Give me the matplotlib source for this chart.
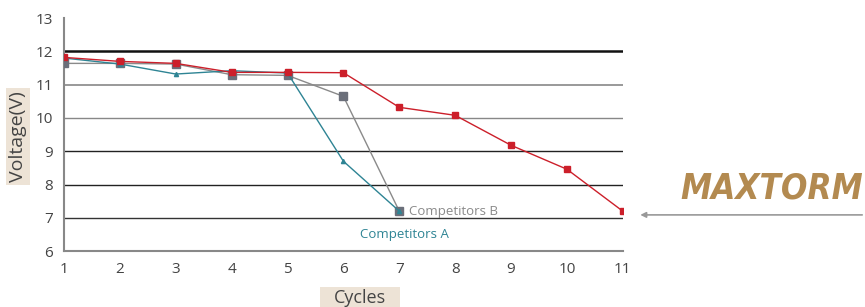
# Battery voltage vs cycles: Maxtorm vs competitors
import matplotlib as mpl
import matplotlib.pyplot as plt

mpl.rcParams.update({'font.family': ['Open Sans', 'DejaVu Sans'], 'font.size': 11})

cycles_max = [1, 2, 3, 4, 5, 6, 7, 8, 9, 10, 11]
volt_max = [11.82, 11.70, 11.64, 11.37, 11.37, 11.36, 10.32, 10.08, 9.18, 8.46, 7.20]
cycles_comp = [1, 2, 3, 4, 5, 6, 7]
volt_b = [11.64, 11.64, 11.62, 11.30, 11.28, 10.65, 7.20]
volt_a = [11.80, 11.62, 11.32, 11.42, 11.35, 8.70, 7.20]
y_ticks = [6, 7, 8, 9, 10, 11, 12, 13]

RED = '#cc1f2a'; GRAY = '#8a8a8a'; TEAL = '#2e8494'; BEIGE = '#ede3d6'; TXT = '#444444'

fig = plt.figure(figsize=(8.65, 3.07), dpi=100)
ax = fig.add_axes([0.074, 0.182, 0.646, 0.759])

# horizontal gridlines, drawn by hand to mimic the mixed styles
for v, c, lw in [(12, '#111111', 1.8), (11, '#888888', 1.2), (10, '#888888', 1.0),
                 (9, '#222222', 1.0), (8, '#222222', 1.0), (7, '#333333', 1.0)]:
    ax.axhline(v, color=c, lw=lw, zorder=1)

ax.plot(cycles_comp, volt_b, color=GRAY, lw=1.0, marker='s', ms=5.5,
        mfc='#6b6f7a', mec='#6b6f7a', zorder=3)
ax.plot(cycles_comp, volt_a, color=TEAL, lw=1.0, marker='^', ms=3,
        mfc=TEAL, mec=TEAL, zorder=4)
ax.plot(cycles_max, volt_max, color=RED, lw=1.0, marker='s', ms=4,
        mfc=RED, mec=RED, zorder=5)

ax.text(7.18, 7.2, 'Competitors B', color='#8a8a8a', fontsize=9.5, va='center', ha='left')
ax.text(6.3, 6.5, 'Competitors A', color=TEAL, fontsize=9.5, va='center', ha='left')

ax.set_xlim(1, 11)
ax.set_ylim(6, 13)
ax.set_xticks(cycles_max)
ax.set_yticks(y_ticks)
ax.tick_params(length=0, colors=TXT, labelsize=11, pad=8)
for s in ['top', 'right']:
    ax.spines[s].set_visible(False)
ax.spines['left'].set_color('#888888'); ax.spines['left'].set_linewidth(1.5)
ax.spines['bottom'].set_color('#888888'); ax.spines['bottom'].set_linewidth(1.5)

fig.text(0.021, 0.555, 'Voltage(V)', rotation=90, ha='center', va='center',
         fontsize=14, color=TXT,
         bbox=dict(boxstyle='square,pad=0.15', fc=BEIGE, ec='none'))
fig.text(0.416, 0.03, 'Cycles', ha='center', va='center', fontsize=13, color=TXT,
         bbox=dict(boxstyle='square,pad=0.1', fc=BEIGE, ec='none'))
fig.patches.append(mpl.patches.Rectangle((0.370, 0.0), 0.093, 0.065,
                   transform=fig.transFigure, fc=BEIGE, ec='none', zorder=-1))

# brand label and arrow
fig.text(0.892, 0.385, 'MAXTORM', ha='center', va='center', fontsize=25,
         fontweight='bold', style='italic', color='#b38a50', family='DejaVu Sans',
         fontstretch='condensed')
ax.annotate('', xy=(0.737, 0.30), xycoords='figure fraction',
            xytext=(1.0, 0.30), textcoords='figure fraction',
            arrowprops=dict(arrowstyle='-|>', color='#999999', lw=1.2, mutation_scale=8))

fig.savefig('out.png', dpi=100)
